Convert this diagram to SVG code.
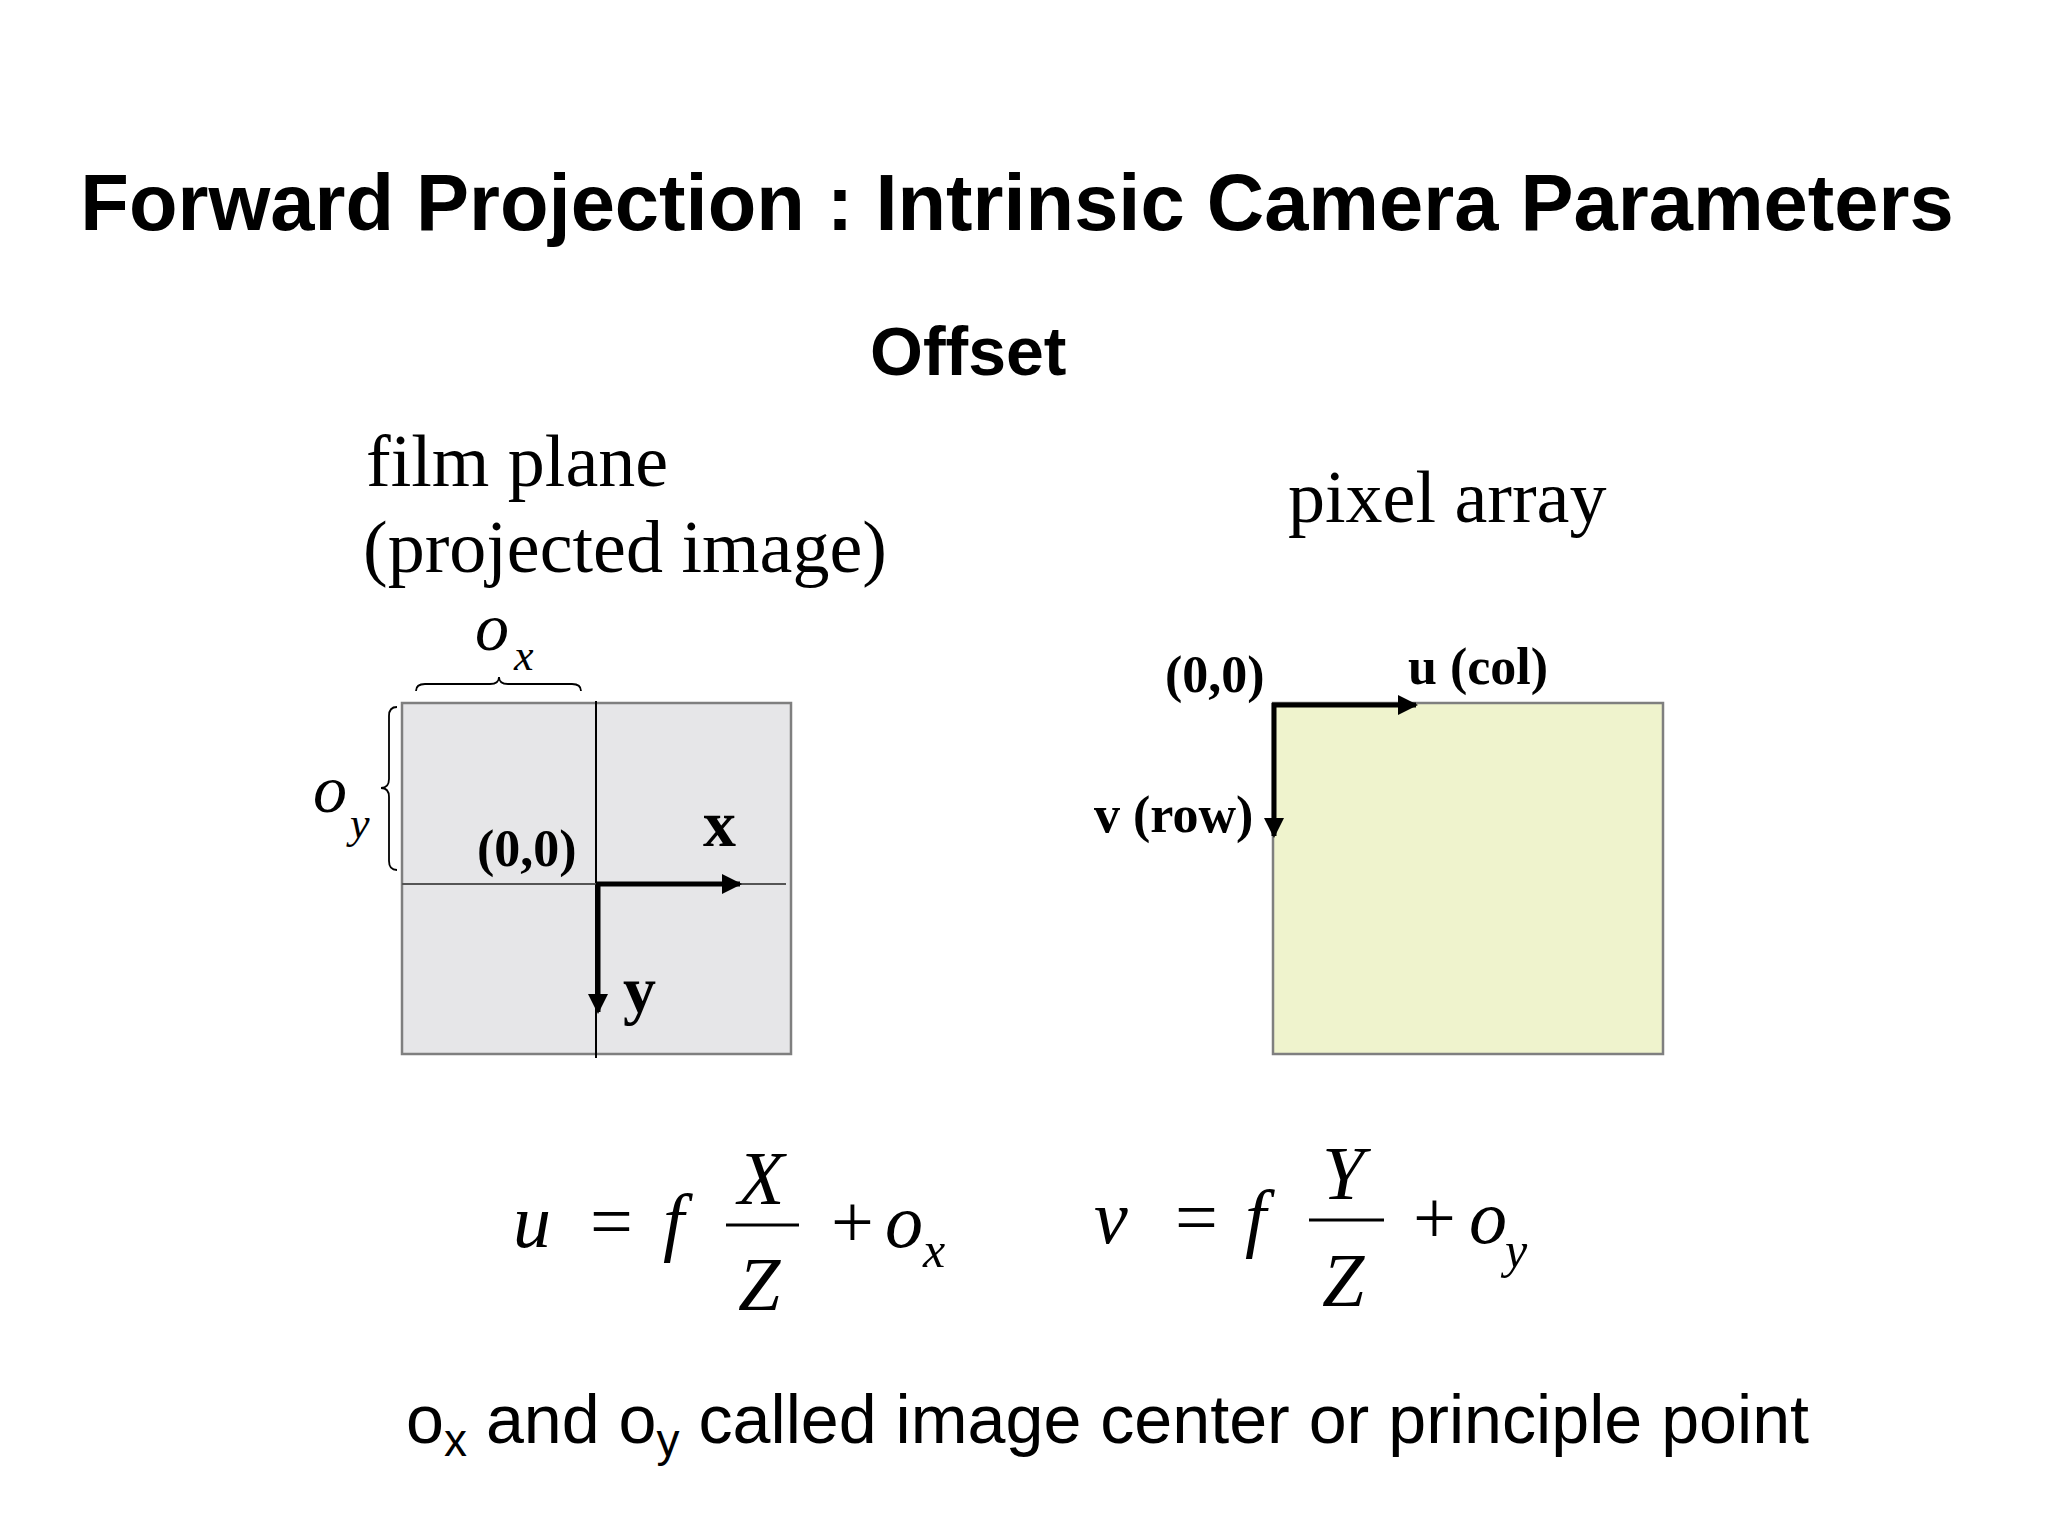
<svg xmlns="http://www.w3.org/2000/svg" width="2048" height="1536" viewBox="0 0 2048 1536">
<style>
.sans{font-family:"Liberation Sans",Arial,sans-serif;fill:#000}
.serif{font-family:"Liberation Serif","Times New Roman",serif;fill:#000}
.it{font-style:italic}
.bd{font-weight:bold}
.thin{stroke:#000;stroke-width:2;fill:none}
.axis{stroke:#000;stroke-width:5;fill:none}
.brace{stroke:#000;stroke-width:1.8;fill:none}
</style>
<defs>
<marker id="ah" viewBox="0 0 10 10" refX="9" refY="5" markerWidth="4.8" markerHeight="4" orient="auto" markerUnits="strokeWidth">
<path d="M0,0 L10,5 L0,10 Z" fill="#000"/>
</marker>
</defs>
<rect width="2048" height="1536" fill="#fff"/>

<g id="title">
<text class="sans bd" x="1017" y="230" font-size="79.5" text-anchor="middle">Forward Projection : Intrinsic Camera Parameters</text>
</g>
<g id="subtitle">
<text class="sans bd" x="870" y="375" font-size="68">Offset</text>
</g>

<g id="film-plane">
<text class="serif" x="366" y="486" font-size="74">film plane</text>
<text class="serif" x="363" y="572" font-size="74">(projected image)</text>
<rect x="402" y="703" width="389" height="351" fill="#e6e6e8" stroke="#7f7f7f" stroke-width="2.5"/>
<line class="thin" x1="596" y1="701" x2="596" y2="1058"/>
<line x1="402" y1="884" x2="786" y2="884" stroke="#555" stroke-width="2"/>
<path class="brace" d="M416,691 Q416,684 425,684 L490,684 Q499,684 499,677 Q499,684 508,684 L572,684 Q581,684 581,691"/>
<path class="brace" d="M397,707 Q389,707 389,716 L389,779 Q389,788 381,788 Q389,788 389,797 L389,861 Q389,870 397,870"/>
<text class="serif it" x="475" y="650" font-size="68">o</text>
<text class="serif it" x="514" y="670" font-size="44">x</text>
<text class="serif it" x="313" y="812" font-size="68">o</text>
<text class="serif it" x="350" y="838" font-size="44">y</text>
<text class="serif bd" x="477" y="866" font-size="52">(0,0)</text>
<text class="serif bd" x="703" y="846" font-size="66">x</text>
<text class="serif bd" x="623" y="1012" font-size="66">y</text>
</g>

<g id="pixel-array">
<text class="serif" x="1288" y="522" font-size="74">pixel array</text>
<rect x="1273" y="703" width="390" height="351" fill="#eff3cd" stroke="#7f7f7f" stroke-width="2.5"/>
<text class="serif bd" x="1165" y="692" font-size="52">(0,0)</text>
<text class="serif bd" x="1408" y="684" font-size="52">u (col)</text>
<text class="serif bd" x="1094" y="832" font-size="52">v (row)</text>
</g>

<g id="connectors">
<path class="axis" d="M596,884 L740,884" marker-end="url(#ah)"/>
<path class="axis" d="M598,884 L598,1012" marker-end="url(#ah)"/>
<path class="axis" d="M1272,705 L1416,705" marker-end="url(#ah)"/>
<path class="axis" d="M1274,703 L1274,836" marker-end="url(#ah)"/>
</g>

<g id="equation-u">
<text class="serif it" x="513" y="1247" font-size="76">u</text>
<text class="serif" x="590" y="1247" font-size="76">=</text>
<text class="serif it" x="663" y="1247" font-size="76">f</text>
<text class="serif it" x="738" y="1204" font-size="76">X</text>
<line x1="726" y1="1225" x2="799" y2="1225" stroke="#000" stroke-width="3"/>
<text class="serif it" x="738" y="1310" font-size="76">Z</text>
<text class="serif" x="831" y="1247" font-size="76">+</text>
<text class="serif it" x="885" y="1247" font-size="76">o</text>
<text class="serif it" x="923" y="1267" font-size="50">x</text>
</g>

<g id="equation-v">
<text class="serif it" x="1094" y="1243" font-size="76">v</text>
<text class="serif" x="1175" y="1243" font-size="76">=</text>
<text class="serif it" x="1245" y="1243" font-size="76">f</text>
<text class="serif it" x="1322" y="1199" font-size="76">Y</text>
<line x1="1309" y1="1220" x2="1384" y2="1220" stroke="#000" stroke-width="3"/>
<text class="serif it" x="1322" y="1306" font-size="76">Z</text>
<text class="serif" x="1413" y="1243" font-size="76">+</text>
<text class="serif it" x="1469" y="1243" font-size="76">o</text>
<text class="serif it" x="1505" y="1267" font-size="50">y</text>
</g>

<g id="caption">
<text class="sans" x="406" y="1443" font-size="68.2">o<tspan font-size="46" dy="13">x</tspan><tspan dy="-13"> and o</tspan><tspan font-size="46" dy="13">y</tspan><tspan dy="-13"> called image center or principle point</tspan></text>
</g>
</svg>
